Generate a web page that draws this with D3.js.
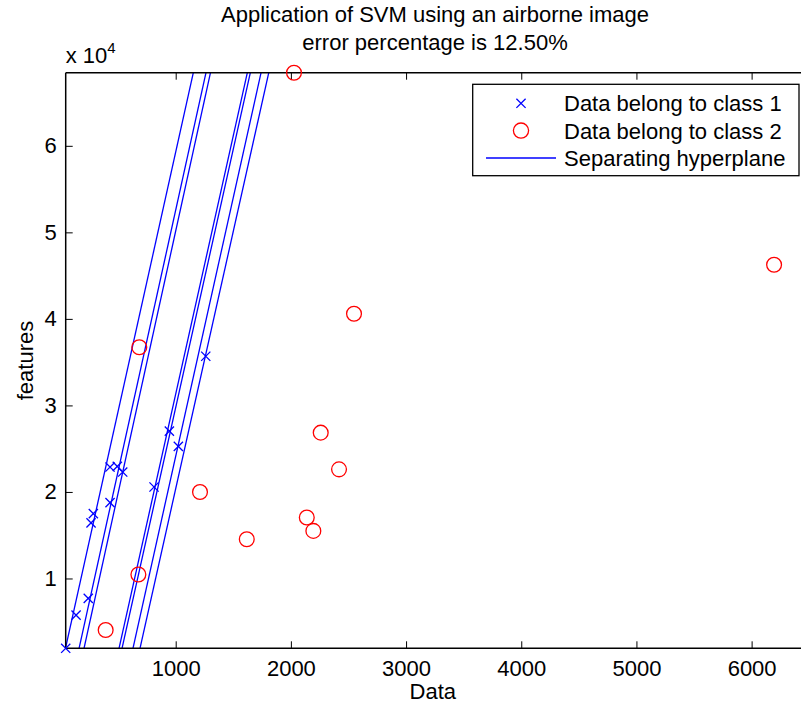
<!DOCTYPE html>
<html>
<head>
<meta charset="utf-8">
<script src="https://cdn.jsdelivr.net/npm/d3@7/dist/d3.min.js"></script>
<style>
  html, body { margin: 0; padding: 0; background: #fff; }
  svg { display: block; font-family: "Liberation Sans", Arial, Helvetica, sans-serif; }
</style>
</head>
<body>
<svg id="chart" width="801" height="707"></svg>
<script>
// Class 1 samples (Data, features)
const class1X = [45, 135, 241, 265, 285, 430, 430, 493, 540, 812, 945, 1023, 1261];
const class1Y = [1930, 5770, 7700, 16420, 17500, 18770, 22880, 22960, 22300, 20570, 27030, 25260, 35680];

// Class 2 samples (Data, features)
const class2X = [2027, 684, 2548, 6195, 2259, 2418, 1211, 2138, 2195, 1617, 676, 392];
const class2Y = [68450, 36720, 40600, 46250, 26850, 22610, 20000, 17040, 15500, 14540, 10460, 4040];

// Separating hyperplanes: Data value where each line meets the lower and upper feature limits
const planeXLow  = [43, 161, 204, 508, 534, 629, 690];
const planeXHigh = [1153, 1263, 1302, 1622, 1648, 1741, 1808];

// Axis limits and ticks
const xLimits = [45, 6440];
const yLimits = [1930, 68450];
const xTicks = [1000, 2000, 3000, 4000, 5000, 6000];
const yTicks = [10000, 20000, 30000, 40000, 50000, 60000];
const yTickLabels = ["1", "2", "3", "4", "5", "6"];

const titleLines = ["Application of SVM using an airborne image", "error percentage is 12.50%"];
const legendLabels = ["Data belong to class 1", "Data belong to class 2", "Separating hyperplane"];

const svg = d3.select("#chart");
const L = 65.7, T = 72.7, B = 648.3;
const R = 802.3;
const FS = 22;

const x = d3.scaleLinear().domain(xLimits).range([L, R]);
const y = d3.scaleLinear().domain(yLimits).range([B, T]);

svg.append("defs").append("clipPath").attr("id", "plotclip")
  .append("rect").attr("x", L).attr("y", T).attr("width", R - L).attr("height", B - T);

// hyperplanes
const planes = planeXLow.map((v, i) => [[v, yLimits[0]], [planeXHigh[i], yLimits[1]]]);
svg.append("g").attr("clip-path", "url(#plotclip)")
  .selectAll("line").data(planes).join("line")
  .attr("x1", d => x(d[0][0])).attr("y1", d => y(d[0][1]))
  .attr("x2", d => x(d[1][0])).attr("y2", d => y(d[1][1]))
  .attr("stroke", "#0000ff").attr("stroke-width", 1.3);

// axes box (right edge falls outside the canvas)
const axisColor = "#000";
svg.append("line").attr("x1", L).attr("x2", R).attr("y1", B).attr("y2", B)
  .attr("stroke", axisColor).attr("stroke-width", 1.5);
svg.append("line").attr("x1", L).attr("x2", R).attr("y1", T).attr("y2", T)
  .attr("stroke", axisColor).attr("stroke-width", 1.5);
svg.append("line").attr("x1", L).attr("x2", L).attr("y1", T).attr("y2", B)
  .attr("stroke", axisColor).attr("stroke-width", 1.5);

// x axis: inward ticks on bottom and top
const xAxisBottom = d3.axisBottom(x).tickValues(xTicks).tickSizeInner(-7).tickSizeOuter(0).tickPadding(12)
  .tickFormat(d3.format("d"));
const gxb = svg.append("g").attr("transform", `translate(0,${B})`).call(xAxisBottom);
gxb.select(".domain").remove();
gxb.selectAll(".tick line").attr("stroke", axisColor).attr("stroke-width", 1);
gxb.selectAll(".tick text").attr("font-size", FS).attr("fill", "#000");

const gxt = svg.append("g").attr("transform", `translate(0,${T})`)
  .call(d3.axisTop(x).tickValues(xTicks).tickSizeInner(-7).tickSizeOuter(0).tickFormat(""));
gxt.select(".domain").remove();
gxt.selectAll(".tick line").attr("stroke", axisColor).attr("stroke-width", 1);

// y axis: inward ticks on the left
const gy = svg.append("g").attr("transform", `translate(${L},0)`)
  .call(d3.axisLeft(y).tickValues(yTicks).tickSizeInner(-7).tickSizeOuter(0).tickPadding(9)
    .tickFormat((d, i) => yTickLabels[i]));
gy.select(".domain").remove();
gy.selectAll(".tick line").attr("stroke", axisColor).attr("stroke-width", 1);
gy.selectAll(".tick text").attr("font-size", FS).attr("fill", "#000");

// exponent label
const expo = svg.append("text").attr("x", L).attr("y", 63).attr("font-size", FS).attr("fill", "#000");
expo.append("tspan").text("x 10");
expo.append("tspan").attr("font-size", 15).attr("dy", -10).text("4");

// class 1 markers (x)
const xs = 4.6;
svg.append("g").selectAll("path").data(class1X.map((v, i) => [v, class1Y[i]])).join("path")
  .attr("d", d => {
    const cx = x(d[0]), cy = y(d[1]);
    return `M${cx - xs},${cy - xs}L${cx + xs},${cy + xs}M${cx - xs},${cy + xs}L${cx + xs},${cy - xs}`;
  })
  .attr("stroke", "#0000ff").attr("stroke-width", 1.3).attr("fill", "none");

// class 2 markers (o)
svg.append("g").selectAll("circle").data(class2X.map((v, i) => [v, class2Y[i]])).join("circle")
  .attr("cx", d => x(d[0])).attr("cy", d => y(d[1])).attr("r", 7.4)
  .attr("stroke", "#ff0000").attr("stroke-width", 1.3).attr("fill", "none");

// title
svg.append("g").selectAll("text").data(titleLines).join("text")
  .attr("x", 435).attr("y", (d, i) => 22 + i * 28)
  .attr("text-anchor", "middle").attr("font-size", FS).attr("fill", "#000")
  .text(d => d);

// axis labels
svg.append("text").attr("x", (L + 800) / 2).attr("y", 699).attr("text-anchor", "middle")
  .attr("font-size", FS).attr("fill", "#000").text("Data");
svg.append("text").attr("transform", `translate(33,${(T + B) / 2}) rotate(-90)`)
  .attr("text-anchor", "middle").attr("font-size", FS).attr("fill", "#000").text("features");

// legend
const lg = svg.append("g");
lg.append("rect").attr("x", 472.7).attr("y", 84.3).attr("width", 799 - 472.7).attr("height", 175.7 - 84.3)
  .attr("fill", "#fff").attr("stroke", "#000").attr("stroke-width", 1.3);
const rowY = [103.3, 130.6, 158];
lg.append("path")
  .attr("d", `M${521 - xs},${rowY[0] - xs}L${521 + xs},${rowY[0] + xs}M${521 - xs},${rowY[0] + xs}L${521 + xs},${rowY[0] - xs}`)
  .attr("stroke", "#0000ff").attr("stroke-width", 1.3).attr("fill", "none");
lg.append("circle").attr("cx", 521).attr("cy", rowY[1]).attr("r", 7.6)
  .attr("stroke", "#ff0000").attr("stroke-width", 1.3).attr("fill", "none");
lg.append("line").attr("x1", 486).attr("x2", 556).attr("y1", rowY[2]).attr("y2", rowY[2])
  .attr("stroke", "#0000ff").attr("stroke-width", 1.3);
lg.selectAll("text.leg").data(legendLabels).join("text").attr("class", "leg")
  .attr("x", 564).attr("y", (d, i) => rowY[i]).attr("dy", "0.36em")
  .attr("font-size", FS).attr("fill", "#000").text(d => d);
</script>
</body>
</html>
